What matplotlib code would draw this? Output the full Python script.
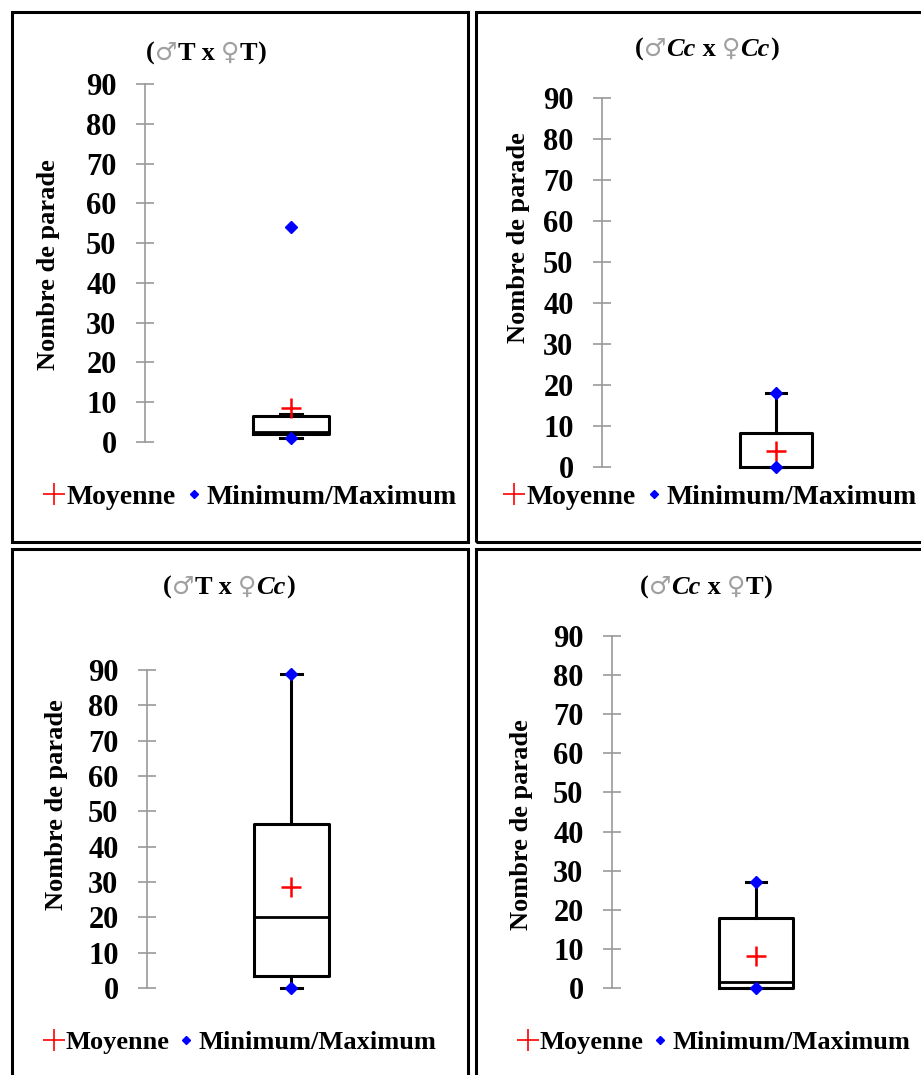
import matplotlib
matplotlib.use('Agg')
import matplotlib.pyplot as plt
from matplotlib.lines import Line2D
from matplotlib.patches import Rectangle

plt.rcParams['font.family'] = 'Liberation Serif'
plt.rcParams['font.weight'] = 'bold'

W, H = 921, 1075

# Données (Nombre de parade)
croisements = [('T', 'T'), ('Cc', 'Cc'), ('T', 'Cc'), ('Cc', 'T')]
minimum = [1, 0, 0, 0]
q1 = [2, 0, 3.5, 0]
mediane = [2.5, 0, 20, 1.5]
q3 = [6.5, 8.2, 46.5, 18]
moustache_haut = [7, 18, 89, 27]
maximum = [54, 18, 89, 27]
moyenne = [8.5, 4, 28.5, 8.3]
yticks = [0, 10, 20, 30, 40, 50, 60, 70, 80, 90]

# Mise en page (pixels)
panneaux = [(12, 12, 456, 530), (476, 12, 460, 530), (12, 549, 456, 540), (476, 549, 460, 540)]
axes_px = [(145, 442, 84), (602, 467, 98), (147, 988, 670), (612, 988, 636)]
box_centre = [291, 776, 291, 756]
box_larg = [76, 72, 75, 74]
titre_x = [146, 635, 163, 640]
titre_y = [60, 56, 594, 594]
label_pos = [(48, 265), (518, 238), (56, 805), (521, 825)]
legende_pos = [(43, 497), (503, 497), (43, 1042), (517, 1042)]
legende_taille = [20, 20, 19, 19]

fig = plt.figure(figsize=(W / 100, H / 100), dpi=100)
renderer = fig.canvas.get_renderer()

AXW = 300
for i in range(4):
    px, py, pw, ph = panneaux[i]
    fig.patches.append(Rectangle((px / W, 1 - (py + ph) / H), pw / W, ph / H,
                                 transform=fig.transFigure, fill=False,
                                 edgecolor='black', linewidth=2.2, zorder=0))

    sx, y0, y90 = axes_px[i]
    ax = fig.add_axes([sx / W, 1 - y0 / H, AXW / W, (y0 - y90) / H])
    ax.set_xlim(0, 1)
    ax.set_ylim(0, 90)
    pos = (box_centre[i] - sx) / AXW
    larg = box_larg[i] / AXW

    stats = [{'med': mediane[i], 'q1': q1[i], 'q3': q3[i],
              'whislo': minimum[i], 'whishi': moustache_haut[i],
              'mean': moyenne[i], 'fliers': []}]
    style = dict(color='black', linewidth=2.2)
    art = ax.bxp(stats, positions=[pos], widths=larg, showmeans=True,
                 boxprops=style, whiskerprops=style, capprops=style,
                 medianprops=dict(color='black', linewidth=2),
                 meanprops=dict(marker='+', markeredgecolor='red', markersize=15,
                                markeredgewidth=1.8),
                 capwidths=larg * 0.28, manage_ticks=False)
    for key in art:
        for a in art[key]:
            a.set_clip_on(False)
    ax.plot([pos, pos], [minimum[i], maximum[i]], linestyle='none', marker='D',
            color='blue', markersize=6, clip_on=False, zorder=5)

    for s in ['top', 'right', 'bottom']:
        ax.spines[s].set_visible(False)
    ax.spines['left'].set_color('#999999')
    ax.spines['left'].set_linewidth(1.2)
    ax.set_xticks([])
    ax.set_yticks(yticks)
    ax.tick_params(axis='y', direction='inout', length=13, width=1.2,
                   color='#999999', labelsize=22, pad=14)
    for lab in ax.get_yticklabels():
        lab.set_fontweight('bold')
    ax.patch.set_alpha(0)

    lx, ly = label_pos[i]
    fig.text(lx / W, 1 - ly / H, 'Nombre de parade', rotation=90, ha='center',
             va='center', fontsize=19, fontweight='bold')

    # Titre en morceaux : symboles gris, Cc en italique
    male, femelle = croisements[i]
    morceaux = [('(', 'normal', None), ('♂', 'normal', 'sym'),
                (male, 'italic' if male == 'Cc' else 'normal', None),
                (' x ', 'normal', None), ('♀', 'normal', 'sym'),
                (femelle, 'italic' if femelle == 'Cc' else 'normal', None),
                (')', 'normal', None)]
    x_cur = titre_x[i]
    for txt, st, kind in morceaux:
        kw = dict(fontsize=19, fontweight='bold', fontstyle=st, va='baseline', ha='left')
        if kind == 'sym':
            kw.update(family='DejaVu Sans', fontweight='normal', color='#a0a0a0', fontsize=18)
        t = fig.text(x_cur / W, 1 - titre_y[i] / H, txt, **kw)
        x_cur += t.get_window_extent(renderer).width

    handles = [Line2D([], [], linestyle='none', marker='+', color='red',
                      markersize=16, markeredgewidth=1.2),
               Line2D([], [], linestyle='none', marker='D', color='blue', markersize=4.5)]
    lgx, lgy = legende_pos[i]
    ax.legend(handles, ['Moyenne', 'Minimum/Maximum'], loc='center left',
              bbox_to_anchor=(lgx / W, 1 - lgy / H), bbox_transform=fig.transFigure,
              ncol=2, frameon=False, handlelength=0.8, handletextpad=0.05,
              columnspacing=0.25, borderpad=0, borderaxespad=0,
              prop={'family': 'Liberation Serif', 'weight': 'bold',
                    'size': legende_taille[i]})

fig.savefig('out.png', dpi=100)
